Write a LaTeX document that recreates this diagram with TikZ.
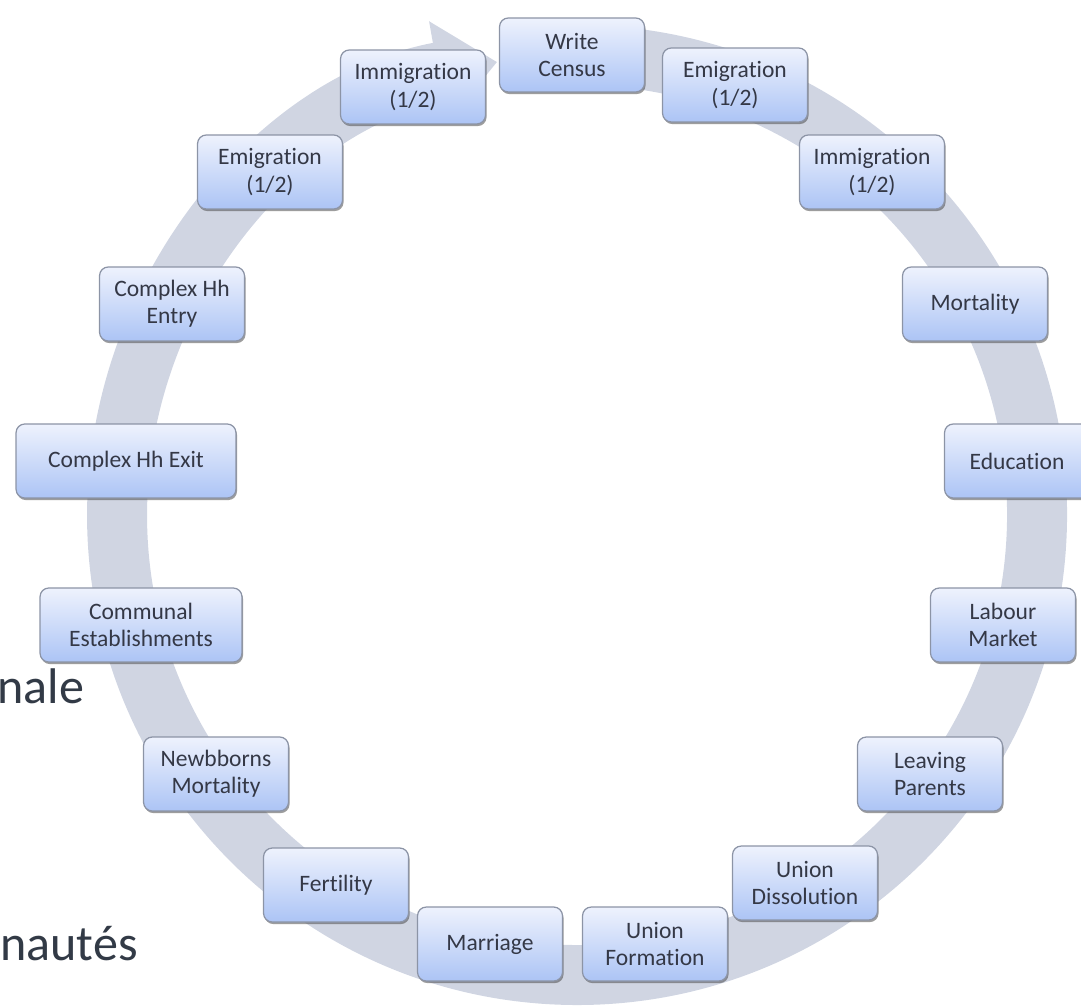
\documentclass[tikz,border=0pt]{standalone}
\usepackage{fontspec}
\setmainfont{Carlito}[Ligatures=NoCommon]
\usetikzlibrary{arrows.meta, shadows}
\definecolor{ringGray}{RGB}{208,213,226}
\definecolor{boxTop}{RGB}{238,242,253}
\definecolor{boxBottom}{RGB}{172,196,245}
\definecolor{boxLine}{RGB}{140,148,166}
\definecolor{boxText}{RGB}{52,56,70}
\definecolor{slideText}{RGB}{50,58,70}
\tikzstyle{stepbox} = [rectangle, rounded corners=5pt, minimum width=2.9cm, minimum height=1.48cm, inner sep=1pt, align=center, draw=boxLine, line width=0.7pt, top color=boxTop, bottom color=boxBottom, text=boxText, font=\fontsize{13.4}{15.5}\selectfont, drop shadow={shadow xshift=0.6pt, shadow yshift=-1.2pt, opacity=0.55, fill=black!70}]
\tikzstyle{ring} = [line width=1.2cm, ringGray, -{Triangle[length=1.2cm, width=2cm]}]
\tikzstyle{slidetext} = [inner sep=0pt, text=slideText, font=\fontsize{28.5}{34}\selectfont]

\begin{document}
\begin{tikzpicture}[x=0.02cm, y=-0.02cm]
            \useasboundingbox (0,0) rectangle (1081,1006);
            % circular arrow behind the steps
            \draw [ring] (593.1,55.3) arc[start angle=-88, end angle=260, x radius=460, y radius=460];

            % cut-off slide text
            \node (nale) [slidetext, anchor=base west] at (-3,703) {nale};
            \node (nautes) [slidetext, anchor=base west] at (0,960) {nautés};

            \node (writeCensus) [stepbox] at (572,55) {Write\\Census};
            \node (immigrationA) [stepbox] at (413,87) {Immigration\\(1/2)};
            \node (emigrationA) [stepbox] at (735,85) {Emigration\\(1/2)};
            \node (emigrationB) [stepbox] at (270,172) {Emigration\\(1/2)};
            \node (immigrationB) [stepbox] at (872,172) {Immigration\\(1/2)};
            \node (complexEntry) [stepbox] at (172,304) {Complex Hh\\Entry};
            \node (mortality) [stepbox] at (975,304) {Mortality};
            \node (complexExit) [stepbox, minimum width=4.4cm] at (126,461) {Complex Hh Exit};
            \node (education) [stepbox] at (1017,461) {Education};
            \node (communal) [stepbox, minimum width=4.04cm] at (141,625) {Communal\\Establishments};
            \node (labourMarket) [stepbox] at (1003,625) {Labour\\Market};
            \node (newbornsMort) [stepbox] at (216,774) {Newbborns\\Mortality};
            \node (leavingParents) [stepbox] at (930,774) {Leaving\\Parents};
            \node (fertility) [stepbox] at (336,885) {Fertility};
            \node (unionDissolution) [stepbox] at (805,883) {Union\\Dissolution};
            \node (marriage) [stepbox] at (490,944) {Marriage};
            \node (unionFormation) [stepbox] at (655,944) {Union\\Formation};
        \end{tikzpicture}
\end{document}
